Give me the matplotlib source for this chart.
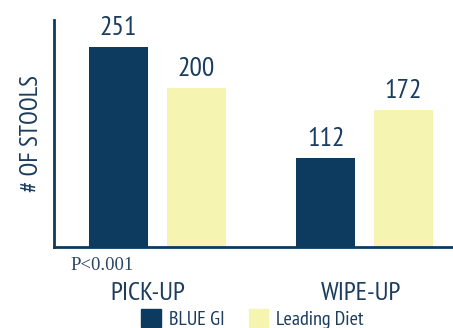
import matplotlib.pyplot as plt
import matplotlib.patches as mpatches
import numpy as np

categories = ["PICK-UP", "WIPE-UP"]
series_names = ["BLUE GI", "Leading Diet"]
blue_gi = [251, 112]
leading_diet = [200, 172]
p_note = "P<0.001"

navy = "#0d3a5f"
cream = "#f5f5b1"
text_col = "#1b3c5e"

plt.rcParams["font.family"] = ["PT Sans Narrow", "Open Sans Condensed", "Roboto Condensed", "DejaVu Sans"]

fig = plt.figure(figsize=(4.53, 3.28), dpi=100)
ax = fig.add_axes([0.119, 0.247, 0.881, 0.692])

x = np.arange(len(categories))
w = 0.285
off = 0.188
b1 = ax.bar(x - off, blue_gi, w, color=navy, label=series_names[0], zorder=2)
b2 = ax.bar(x + off, leading_diet, w, color=cream, label=series_names[1], zorder=2)

for bars, vals in ((b1, blue_gi), (b2, leading_diet)):
    for r, v in zip(bars, vals):
        ax.text(r.get_x() + r.get_width() / 2, v + 9, str(v), ha="center", va="bottom",
                fontsize=20, color=text_col)

ax.set_xlim(-0.5, 1.427)
ax.set_ylim(0, 285)
for s in ["top", "right"]:
    ax.spines[s].set_visible(False)
for s in ["left", "bottom"]:
    ax.spines[s].set_color(navy)
    ax.spines[s].set_linewidth(2)
ax.set_yticks([])
ax.set_xticks([])
ax.set_ylabel("# OF STOOLS", fontsize=18, color=text_col, labelpad=8)

ax.text(-0.418, -0.082, p_note, transform=ax.get_xaxis_transform(), ha="left", va="center",
        fontsize=13.5, color="#2c4660", family="Liberation Serif")
for xi, lab in zip([-0.046, 0.983], categories):
    ax.text(xi, -0.205, lab, transform=ax.get_xaxis_transform(), ha="center", va="center",
            fontsize=19, color=text_col)

handles = [mpatches.Patch(color=navy), mpatches.Patch(color=cream)]
fig.legend(handles, series_names, loc="upper center", bbox_to_anchor=(0.557, 0.088),
           ncol=2, frameon=False, fontsize=14.5, handlelength=0.95, handleheight=0.95,
           borderpad=0, columnspacing=1.2, handletextpad=0.4, labelcolor=text_col)

fig.savefig("out.png", dpi=100)
